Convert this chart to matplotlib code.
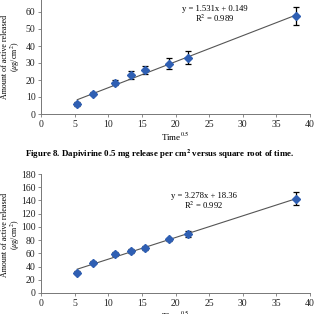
import matplotlib
matplotlib.use("Agg")
import matplotlib.pyplot as plt
import numpy as np

# Figure 7 (top): release vs sqrt(time)
time_sqrt = [5.4, 7.7, 11.0, 13.4, 15.5, 19.0, 21.9, 37.9]
release_top = [5.8, 11.9, 18.5, 22.9, 25.8, 29.7, 33.0, 57.8]
err_top = [1.0, 1.0, 1.5, 2.5, 2.5, 3.3, 3.8, 5.3]
fit_top = (1.531, 0.149)
eq_top = "y = 1.531x + 0.149"
r2_top = "R$^2$ = 0.989"

# Figure 8 (bottom)
release_bot = [31.0, 46.0, 59.5, 63.5, 68.0, 81.0, 89.0, 142.5]
err_bot = [2.5, 2.5, 3.0, 2.5, 3.5, 2.5, 5.0, 10.0]
fit_bot = (3.278, 18.36)
eq_bot = "y = 3.278x + 18.36"
r2_bot = "R$^2$ = 0.992"

caption = "Figure 8. Dapivirine 0.5 mg release per cm$^\\mathbf{2}$ versus square root of time."

plt.rcParams["font.family"] = ["Liberation Serif", "DejaVu Serif"]
plt.rcParams["mathtext.fontset"] = "stix"

W, H = 317, 314
fig = plt.figure(figsize=(W / 100, H / 100), dpi=100)
fig.patch.set_facecolor("white")

marker_color = "#2F5FB3"


def draw_panel(ax, y, err, fit, eq, r2, ymax, ytick_max, ystep,
               eq_x, eq_y, r2_y, ylabel_y):
    ax.errorbar(time_sqrt, y, yerr=err, fmt="none", ecolor="black",
                elinewidth=0.9, capsize=2.2, capthick=0.9, zorder=2)
    xs = np.array([min(time_sqrt), max(time_sqrt)])
    ax.plot(xs, fit[0] * xs + fit[1], color="#555555", linewidth=0.8, zorder=3)
    ax.plot(time_sqrt, y, linestyle="none", marker="D", markersize=4.2,
            color=marker_color, markeredgecolor=marker_color, zorder=4)
    ax.set_xlim(0, 40)
    ax.set_ylim(0, ymax)
    ax.set_xticks(range(0, 41, 5))
    ax.set_yticks(np.arange(0, ytick_max + 1, ystep))
    for side in ("top", "right"):
        ax.spines[side].set_visible(False)
    for side in ("left", "bottom"):
        ax.spines[side].set_color("#777777")
        ax.spines[side].set_linewidth(0.7)
    ax.tick_params(labelsize=7, length=2.5, width=0.6, color="#777777",
                   pad=1.5, labelcolor="#222222")
    ax.set_xlabel("Time$^{0.5}$", fontsize=6.5, labelpad=2)
    ax.set_ylabel("Amount of active released\n($\\mu$g/cm$^2$)", fontsize=5.8,
                  labelpad=2, linespacing=1.0)
    ax.yaxis.set_label_coords(-0.07, ylabel_y)
    ax.text(eq_x, eq_y, eq, fontsize=6.2, ha="center", va="center")
    ax.text(eq_x, r2_y, r2, fontsize=6.2, ha="center", va="center")


# top panel runs off the top edge of the page crop
ax_top = fig.add_axes([41 / W, 200 / H, 269 / W, 119 / H])
draw_panel(ax_top, release_top, err_top, fit_top, eq_top, r2_top, 70, 60, 10,
           25.9, 61.8, 56.3, 0.48)

ax_bot = fig.add_axes([41 / W, 21 / H, 269 / W, 119 / H])
draw_panel(ax_bot, release_bot, err_bot, fit_bot, eq_bot, r2_bot, 180, 180, 20,
           24.2, 146.7, 133.0, 0.49)

fig.text(160 / W, 1 - 154 / H, caption, ha="center", va="center",
         fontsize=6.4, fontweight="bold")

fig.savefig("out.png", dpi=100)
